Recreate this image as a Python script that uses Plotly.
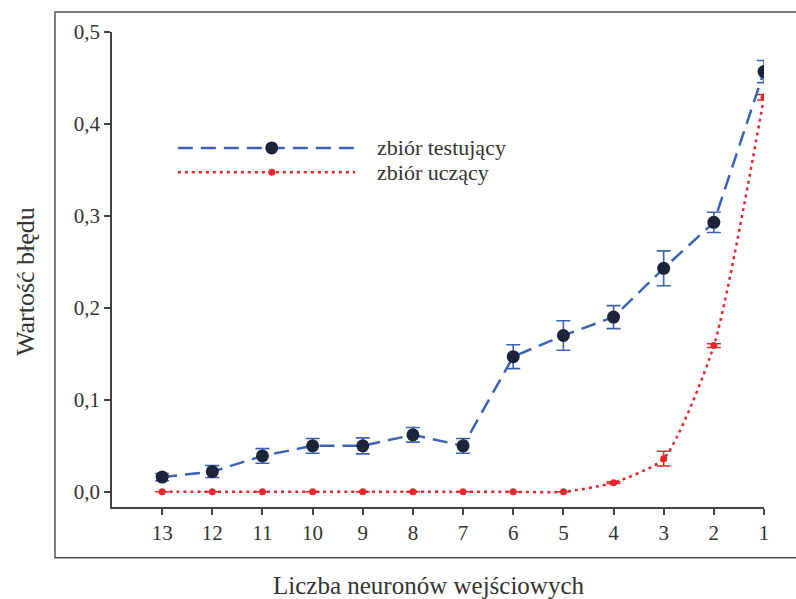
import plotly.graph_objects as go

neurons = [13, 12, 11, 10, 9, 8, 7, 6, 5, 4, 3, 2, 1]
test_err = [0.016, 0.022, 0.039, 0.050, 0.050, 0.062, 0.050, 0.147, 0.170, 0.190, 0.243, 0.293, 0.457]
test_sd = [0.004, 0.0065, 0.008, 0.008, 0.0087, 0.008, 0.008, 0.013, 0.016, 0.0125, 0.019, 0.011, 0.012]
train_err = [0.0, 0.0, 0.0, 0.0, 0.0, 0.0, 0.0, 0.0, 0.0, 0.010, 0.036, 0.159, 0.429]
train_sd = [0, 0, 0, 0, 0, 0, 0, 0, 0, 0.001, 0.008, 0.002, 0.003]
y_ticks = [0.0, 0.1, 0.2, 0.3, 0.4, 0.5]
y_tick_text = ["0,0", "0,1", "0,2", "0,3", "0,4", "0,5"]
legend_labels = ["zbiór testujący", "zbiór uczący"]

FONT = "Liberation Serif"
TXT = "#333333"
BLUE = "#3d64b4"
NAVY = "#1b2438"
RED = "#e8262b"

fig = go.Figure()
fig.add_trace(go.Scatter(
    x=neurons, y=train_err, mode="lines+markers",
    line=dict(color=RED, width=2.5, dash="3px,4px", shape="spline", smoothing=0.6),
    marker=dict(color=RED, size=7, symbol="circle"),
    error_y=dict(type="data", array=train_sd, color=RED, thickness=1.5, width=7),
    showlegend=False))
fig.add_trace(go.Scatter(
    x=neurons, y=test_err, mode="lines+markers",
    line=dict(color=BLUE, width=2.5, dash="15px,8px"),
    marker=dict(color=NAVY, size=13, symbol="circle"),
    error_y=dict(type="data", array=test_sd, color=BLUE, thickness=1.6, width=7),
    showlegend=False))

axis_common = dict(showline=True, linecolor="#444444", linewidth=1.6, ticks="outside",
                   ticklen=6, tickwidth=1.6, tickcolor="#444444", showgrid=False, zeroline=False,
                   tickfont=dict(family=FONT, size=21, color=TXT))
fig.update_xaxes(range=[14, 1], tickvals=neurons, ticktext=[str(n) for n in neurons], **axis_common)
fig.update_yaxes(range=[-0.0165, 0.5], tickvals=y_ticks, ticktext=y_tick_text, **axis_common)

shapes = [
    dict(type="rect", xref="paper", yref="paper", x0=-0.0874, x1=1.12, y0=-0.107, y1=1.042,
         line=dict(color="#555555", width=1.5), layer="below"),
    dict(type="line", xref="paper", yref="paper", x0=0.101, x1=0.373, y0=0.756, y1=0.756,
         line=dict(color=BLUE, width=2.5, dash="15px,8px")),
    dict(type="line", xref="paper", yref="paper", x0=0.101, x1=0.373, y0=0.705, y1=0.705,
         line=dict(color=RED, width=2.5, dash="3px,4px")),
    dict(type="circle", xref="paper", yref="paper", x0=0.245 - 6.5/652, x1=0.245 + 6.5/652,
         y0=0.756 - 6.5/475, y1=0.756 + 6.5/475, fillcolor=NAVY, line=dict(width=0)),
    dict(type="circle", xref="paper", yref="paper", x0=0.245 - 3.5/652, x1=0.245 + 3.5/652,
         y0=0.705 - 3.5/475, y1=0.705 + 3.5/475, fillcolor=RED, line=dict(width=0)),
]
annotations = [
    dict(text=legend_labels[0], xref="paper", yref="paper", x=0.404, y=0.756, xanchor="left",
         yanchor="middle", showarrow=False, font=dict(family=FONT, size=22, color=TXT)),
    dict(text=legend_labels[1], xref="paper", yref="paper", x=0.404, y=0.705, xanchor="left",
         yanchor="middle", showarrow=False, font=dict(family=FONT, size=22, color=TXT)),
    dict(text="Liczba neuronów wejściowych", xref="paper", yref="paper", x=(428 - 112) / 652,
         y=(507 - 585) / 475, xanchor="center", yanchor="middle", showarrow=False,
         font=dict(family=FONT, size=25, color=TXT)),
    dict(text="Wartość błędu", xref="paper", yref="paper", x=(25 - 112) / 652,
         y=(507 - 282) / 475, xanchor="center", yanchor="middle", textangle=-90, showarrow=False,
         font=dict(family=FONT, size=26, color=TXT)),
]

fig.update_layout(
    width=796, height=599,
    margin=dict(l=112, r=32, t=32, b=92),
    paper_bgcolor="white", plot_bgcolor="white",
    shapes=shapes, annotations=annotations,
    font=dict(family=FONT, color=TXT),
)
fig.write_html("out.html")
